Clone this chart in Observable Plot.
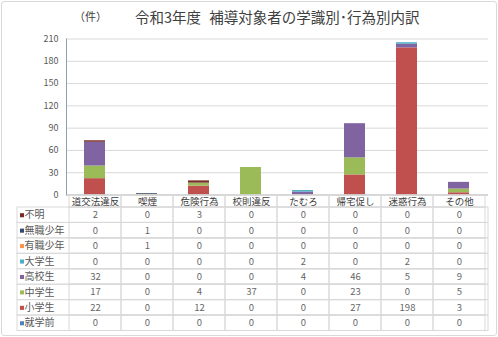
<!DOCTYPE html>
<html><head><meta charset="utf-8">
<script src="https://cdn.jsdelivr.net/npm/d3@7"></script>
<script src="https://cdn.jsdelivr.net/npm/@observablehq/plot@0.6"></script>
<style>
body{margin:0;background:#fff;font-family:"Noto Sans CJK JP","Noto Sans",sans-serif;}
#frame{position:absolute;left:1px;top:1px;width:494px;height:333px;border:1px solid #d9d9d9;border-radius:3px;}
#unit{position:absolute;left:74px;top:8px;font-size:11px;color:#404040;}
#title{position:absolute;left:135px;top:6px;font-size:14.5px;color:#404040;white-space:nowrap;word-spacing:5px;}
#chart{position:absolute;left:0;top:30px;}
#table{position:absolute;left:0;top:195px;}
svg{overflow:visible}
</style></head>
<body>
<div id="frame"></div>
<div id="unit">（件）</div>
<div id="title">令和3年度 補導対象者の学識別･行為別内訳</div>
<div id="chart"></div>
<div id="table"></div>
<script>
const categories = ["道交法違反","喫煙","危険行為","校則違反","たむろ","帰宅促し","迷惑行為","その他"];
// table order (top to bottom)
const series = ["不明","無職少年","有職少年","大学生","高校生","中学生","小学生","就学前"];
const colors = ["#772C2A","#2C4D75","#F79646","#4BACC6","#8064A2","#9BBB59","#C0504D","#4F81BD"];
const v_fumei    = [2,0,3,0,0,0,0,0];
const v_mushoku  = [0,1,0,0,0,0,0,0];
const v_yushoku  = [0,1,0,0,0,0,0,0];
const v_daigaku  = [0,0,0,0,2,0,2,0];
const v_koko     = [32,0,0,0,4,46,5,9];
const v_chugaku  = [17,0,4,37,0,23,0,5];
const v_shogaku  = [22,0,12,0,0,27,198,3];
const v_shugaku  = [0,0,0,0,0,0,0,0];
const yTicks = [0,30,60,90,120,150,180,210];

const values = [v_fumei,v_mushoku,v_yushoku,v_daigaku,v_koko,v_chugaku,v_shogaku,v_shugaku];
const cells = [];
series.forEach((s,i)=>categories.forEach((c,j)=>cells.push({series:s,row:i,cat:c,value:values[i][j]})));
// stacking order: bottom = 就学前
const stackData = [];
for (let i = series.length-1; i >= 0; i--) categories.forEach((c,j)=>stackData.push({series:series[i],cat:c,value:values[i][j]}));

const W = 498, left = 66, right = 488;
const colorScale = {domain: series, range: colors};
const grid = "#d9d9d9", txt = "#595959";

const chart = Plot.plot({
  width: W, height: 165,
  marginLeft: left, marginRight: W-right, marginTop: 8.5, marginBottom: 0.5,
  style: {fontFamily: '"Noto Sans CJK JP", sans-serif', background: "transparent"},
  x: {domain: categories, range: [left, right], paddingInner: 0.59, paddingOuter: 0.295, axis: null},
  y: {domain: [0,210], axis: null},
  color: colorScale,
  marks: [
    Plot.gridY(yTicks, {stroke: grid, strokeOpacity: 1}),
    Plot.barY(stackData, {x: "cat", y: "value", fill: "series"}),
    Plot.axisY(yTicks, {tickSize: 0, tickPadding: 8, fontSize: 9, color: txt, label: null}),
    Plot.frame({anchor: "left", stroke: "#8ea0b4"}),
    Plot.ruleY([0], {stroke: "#bfbfbf"})
  ]
});
document.getElementById("chart").append(chart);

const hf = 12/15.44;
const rows = series.map((s,i)=>({series:s,row:i}));
const table = Plot.plot({
  width: W, height: 136,
  marginLeft: 17, marginRight: W-right, marginTop: 0, marginBottom: 0.5,
  style: {fontFamily: '"Noto Sans CJK JP", sans-serif', background: "transparent"},
  x: {domain: categories, range: [left, right], padding: 0, axis: null},
  y: {domain: [-hf, series.length], range: [0, 135.5], axis: null},
  color: colorScale,
  marks: [
    Plot.rect(rows, {y1: "row", y2: d=>d.row+1, fill: "none", stroke: grid}),
    Plot.barY(categories, {x: d=>d, y1: -hf, y2: 0, fill: "none", stroke: grid}),
    Plot.barY(cells, {x: "cat", y1: "row", y2: d=>d.row+1, fill: "none", stroke: grid}),
    Plot.text(categories, {x: d=>d, y: -hf/2, fontSize: 9.5, fill: "#404040"}),
    Plot.text(cells, {x: "cat", y: d=>d.row+0.5, text: d=>String(d.value), fontSize: 9.5, fill: "#666"}),
    Plot.dot(rows, {y: d=>d.row+0.5, frameAnchor: "left", dx: 4.5, symbol: "square", r: 2.3, fill: "series"}),
    Plot.text(rows, {y: d=>d.row+0.5, frameAnchor: "left", dx: 7, textAnchor: "start", text: "series", fontSize: 10, fill: txt})
  ]
});
document.getElementById("table").append(table);
</script>
</body></html>
